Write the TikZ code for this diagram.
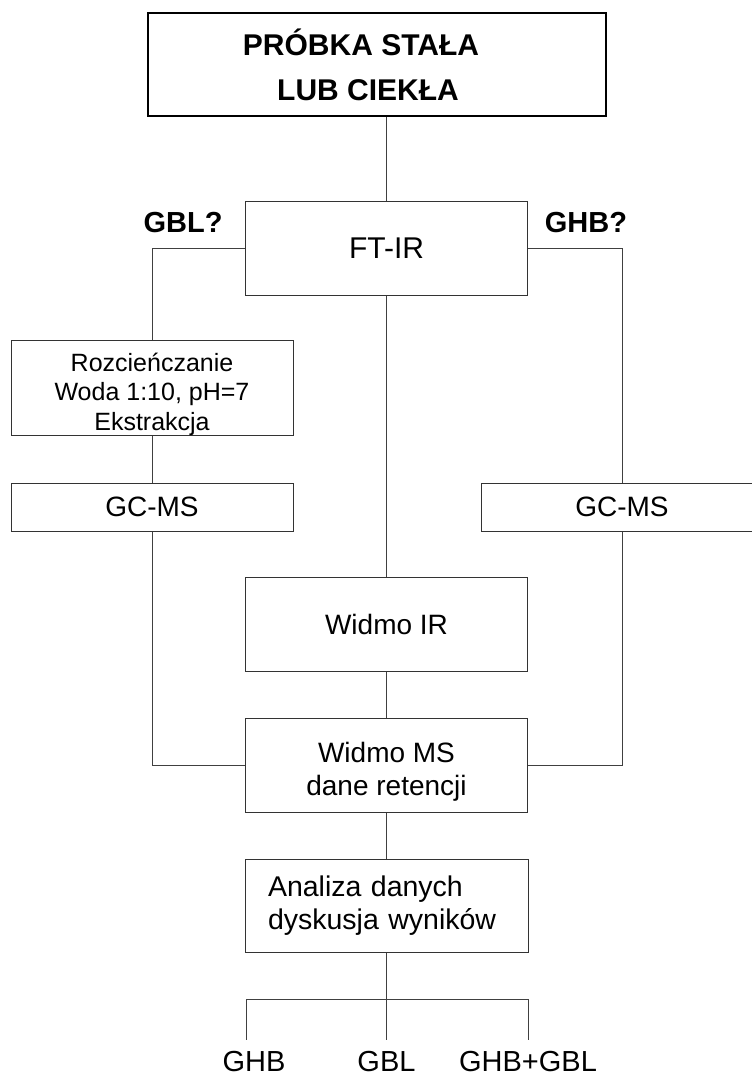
\documentclass[tikz,border=0pt]{standalone}
\usepackage{fontspec}
\setmainfont{Liberation Sans}
\begin{document}
\begin{tikzpicture}[x=1pt, y=-1pt,
  box/.style={rectangle, draw=black!80, line width=1pt, inner sep=0pt, align=center,
    minimum width=282pt, minimum height=94pt, font=\fontsize{28}{33}\selectfont},
  wire/.style={draw=black!75, line width=1pt},
  result/.style={font=\fontsize{29}{35}\selectfont}]
  \useasboundingbox (0,0) rectangle (752,1077);

  % próbka na wejściu
  \node[box, draw=black, line width=2pt, minimum width=458pt, minimum height=103pt,
    font=\fontsize{30}{45}\selectfont\bfseries] (probka) at (377,64.5)
    {PRÓBKA STAŁA\hspace*{32pt}\\ LUB CIEKŁA\hspace*{18pt}};

  % pomiar FT-IR i dwie gałęzie
  \node[box, font=\fontsize{30}{35}\selectfont] (ftir) at (386.5,248) {FT-IR};
  \node[font=\fontsize{29}{35}\selectfont\bfseries] (pytGBL) at (183,223) {GBL?};
  \node[font=\fontsize{29}{35}\selectfont\bfseries] (pytGHB) at (586,223) {GHB?};

  % gałąź GBL
  \node[box, font=\fontsize{25}{29.5}\selectfont] (rozc) at (152,388)
    {\rule{0pt}{31pt}Rozcieńczanie\\ Woda 1:10, pH=7\\ Ekstrakcja};
  \node[box, minimum height=48pt] (gcmsL) at (152,507) {GC-MS};

  % gałąź GHB
  \node[box, minimum height=48pt] (gcmsR) at (622,507) {GC-MS};

  % widma
  \node[box] (widmoIR) at (386.5,624) {Widmo IR};
  \node[box] (widmoMS) at (386.5,765) {\rule{0pt}{34pt}Widmo MS\\ dane retencji};

  % analiza
  \node[box, minimum width=0pt, text width=237pt, inner xsep=23pt, align=left,
    minimum height=93pt, font=\fontsize{28.5}{33}\selectfont] (analiza) at (386.5,905.5)
    {Analiza danych\\ dyskusja wyników};

  % wyniki
  \coordinate (rozg) at (386.5,999);
  \coordinate (rozgL) at (246,999);
  \coordinate (rozgR) at (528,999);
  \node[result] (wGHB) at (254,1062) {GHB};
  \node[result] (wGBL) at (386.5,1062) {GBL};
  \node[result] (wMix) at (528,1062) {GHB+GBL};
  \coordinate (endGHB) at (246,1040);
  \coordinate (endGBL) at (386.5,1040);
  \coordinate (endMix) at (528,1040);

  % połączenia
  \draw[wire] (ftir.north |- probka.south) -- (ftir.north);
  \draw[wire] (ftir.west) -| (rozc.north);
  \draw[wire] (rozc.south) -- (gcmsL.north);
  \draw[wire] (ftir.east) -| (gcmsR.north);
  \draw[wire] (ftir.south) -- (widmoIR.north);
  \draw[wire] (widmoIR.south) -- (widmoMS.north);
  \draw[wire] (gcmsL.south) |- (widmoMS.west);
  \draw[wire] (gcmsR.south) |- (widmoMS.east);
  \draw[wire] (widmoMS.south) -- (analiza.north);
  \draw[wire] (analiza.south) -- (rozg);
  \draw[wire] (rozgL) -- (rozgR);
  \draw[wire] (rozgL) -- (endGHB);
  \draw[wire] (rozg) -- (endGBL);
  \draw[wire] (rozgR) -- (endMix);
\end{tikzpicture}
\end{document}
